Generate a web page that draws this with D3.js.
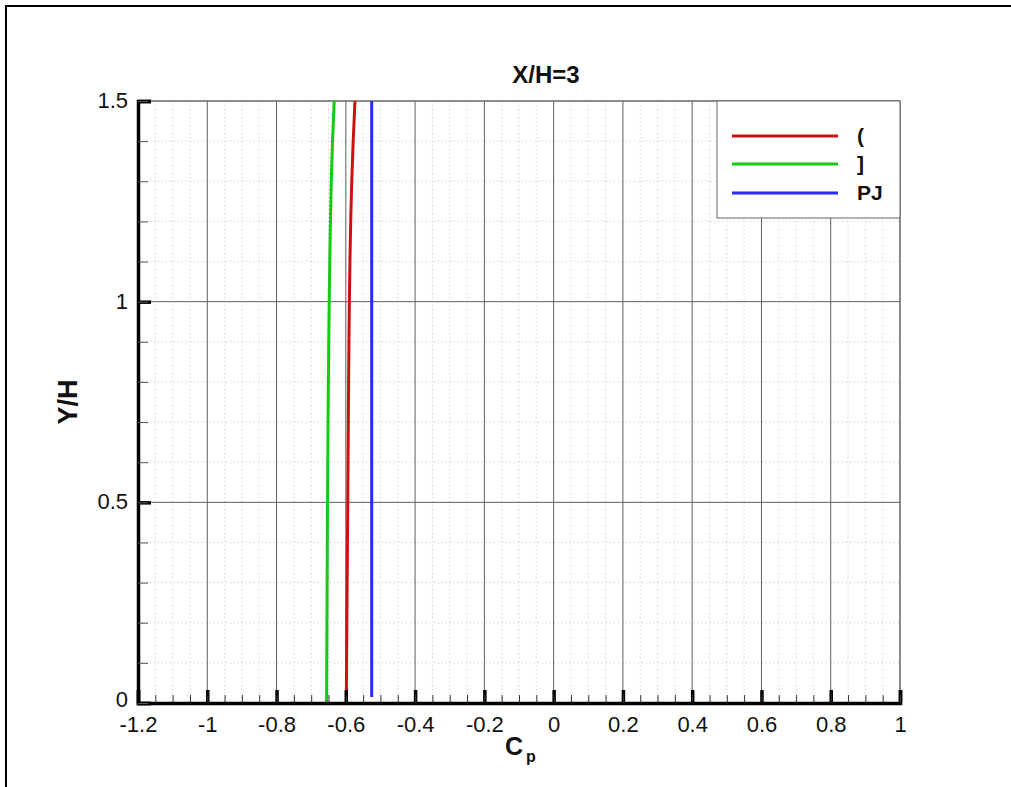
<!DOCTYPE html>
<html><head><meta charset="utf-8">
<script src="https://cdn.jsdelivr.net/npm/d3@7"></script>
<style>body{margin:0;background:#fff}svg{display:block;font-family:"Liberation Sans",Arial,sans-serif}</style>
</head><body><svg id="c" width="1011" height="787"></svg>
<script>
const yVals = [0, 0.1, 0.2, 0.3, 0.4, 0.5, 0.6, 0.7, 0.8, 0.9, 1.0, 1.1, 1.2, 1.3, 1.4, 1.5];
const redX = [-0.5986, -0.5978, -0.597, -0.5962, -0.5953, -0.5944, -0.5936, -0.5928, -0.592, -0.591, -0.5898, -0.5882, -0.586, -0.583, -0.579, -0.5735];
const greenX = [-0.6555, -0.655, -0.6545, -0.654, -0.6534, -0.6528, -0.6521, -0.6513, -0.6504, -0.6493, -0.648, -0.6464, -0.6445, -0.6422, -0.6386, -0.6335];
const blueY = [0.015, 1.5];
const blueX = [-0.5253, -0.5253];
const seriesNames = ["(", "]", "PJ"];
const seriesColors = ["#cc1111", "#11cc11", "#2b2bee"];
const xTicks = [-1.2, -1, -0.8, -0.6, -0.4, -0.2, 0, 0.2, 0.4, 0.6, 0.8, 1];
const yTicks = [0, 0.5, 1, 1.5];
const xMinor = d3.range(-1.2, 1.0001, 0.05).map(v => +v.toFixed(2));
const yMinor = d3.range(0, 1.5001, 0.1).map(v => +v.toFixed(2));

const svg = d3.select("#c");
const L = 138, R = 900, T = 101, B = 703;
const x = d3.scaleLinear().domain([-1.2, 1]).range([L, R]);
const y = d3.scaleLinear().domain([0, 1.5]).range([B, T]);

// outer frame
svg.append("path").attr("d", "M6,790 L6,6 L1015,6").attr("fill", "none").attr("stroke", "#000").attr("stroke-width", 2);

// minor grid
svg.append("g").selectAll("line").data(xMinor.filter(v => !xTicks.some(t => Math.abs(t - v) < 1e-6))).join("line")
  .attr("x1", d => x(d)).attr("x2", d => x(d)).attr("y1", T).attr("y2", B)
  .attr("stroke", "#c4c4c4").attr("stroke-width", 1).attr("stroke-dasharray", "1,3");
svg.append("g").selectAll("line").data(yMinor.filter(v => !yTicks.some(t => Math.abs(t - v) < 1e-6))).join("line")
  .attr("x1", L).attr("x2", R).attr("y1", d => y(d)).attr("y2", d => y(d))
  .attr("stroke", "#c4c4c4").attr("stroke-width", 1).attr("stroke-dasharray", "1,3");
// major grid
svg.append("g").selectAll("line").data(xTicks).join("line")
  .attr("x1", d => x(d)).attr("x2", d => x(d)).attr("y1", T).attr("y2", B)
  .attr("stroke", "#5e5e5e").attr("stroke-width", 1);
svg.append("g").selectAll("line").data(yTicks).join("line")
  .attr("x1", L).attr("x2", R).attr("y1", d => y(d)).attr("y2", d => y(d))
  .attr("stroke", "#5e5e5e").attr("stroke-width", 1);

// plot border top/right
svg.append("path").attr("d", `M${L},${T} L${R},${T} L${R},${B}`).attr("fill", "none").attr("stroke", "#666").attr("stroke-width", 1);

// data lines
const line = d3.line().x(d => x(d[0])).y(d => y(d[1])).curve(d3.curveBasis);
const data = [
  d3.zip(redX, yVals),
  d3.zip(greenX, yVals),
  d3.zip(blueX, blueY)
];
svg.append("g").selectAll("path").data(data).join("path")
  .attr("d", line).attr("fill", "none")
  .attr("stroke", (d, i) => seriesColors[i]).attr("stroke-width", 3);

// axes
const xAxis = d3.axisBottom(x).tickValues(xTicks).tickSize(-13).tickFormat(d => d3.format("")(d).replace("−", "-"));
const gx = svg.append("g").attr("transform", `translate(0,${B})`).call(xAxis);
gx.select(".domain").attr("stroke", "#000").attr("stroke-width", 3.5);
gx.selectAll(".tick line").attr("stroke", "#000").attr("stroke-width", 3.5);
gx.selectAll("text").attr("font-size", 22).attr("fill", "#111").attr("y", 13).attr("dy", "0.71em");
const gxm = svg.append("g").attr("transform", `translate(0,${B})`)
  .call(d3.axisBottom(x).tickValues(xMinor).tickSize(-8).tickFormat(""));
gxm.select(".domain").remove();
gxm.selectAll(".tick line").attr("stroke", "#333").attr("stroke-width", 1);

const yAxis = d3.axisLeft(y).tickValues(yTicks).tickSize(-13).tickFormat(d3.format(""));
const gy = svg.append("g").attr("transform", `translate(${L},0)`).call(yAxis);
gy.select(".domain").attr("stroke", "#000").attr("stroke-width", 3.5);
gy.selectAll(".tick line").attr("stroke", "#000").attr("stroke-width", 3.5);
gy.selectAll("text").attr("font-size", 22).attr("fill", "#111").attr("x", -10)
  .attr("dy", d => d === 0 ? "0.15em" : "0.3em");
const gym = svg.append("g").attr("transform", `translate(${L},0)`)
  .call(d3.axisLeft(y).tickValues(yMinor).tickSize(-10).tickFormat(""));
gym.select(".domain").remove();
gym.selectAll(".tick line").attr("stroke", "#555").attr("stroke-width", 1);

// titles
svg.append("text").attr("x", 546).attr("y", 83).attr("text-anchor", "middle")
  .attr("font-size", 24).attr("font-weight", "bold").attr("fill", "#111").text("X/H=3");
svg.append("text").attr("transform", "translate(77,402) rotate(-90)").attr("text-anchor", "middle")
  .attr("font-size", 27).attr("font-weight", "bold").attr("fill", "#111").text("Y/H");
const xl = svg.append("text").attr("x", 505).attr("y", 755)
  .attr("font-size", 25).attr("font-weight", "bold").attr("fill", "#111");
xl.append("tspan").text("C");
xl.append("tspan").attr("font-size", 16).attr("dy", 7).attr("dx", 3).text("p");

// legend
const lg = svg.append("g");
lg.append("rect").attr("x", 717).attr("y", 101).attr("width", 183).attr("height", 117)
  .attr("fill", "#fff").attr("stroke", "#666").attr("stroke-width", 1);
const ly = [136, 164, 193];
seriesNames.forEach((n, i) => {
  lg.append("line").attr("x1", 732).attr("x2", 838).attr("y1", ly[i]).attr("y2", ly[i])
    .attr("stroke", seriesColors[i]).attr("stroke-width", 3);
  lg.append("text").attr("x", 857).attr("y", ly[i] + 7).attr("font-size", 21)
    .attr("font-weight", "bold").attr("fill", "#111").text(n);
});
</script></body></html>
